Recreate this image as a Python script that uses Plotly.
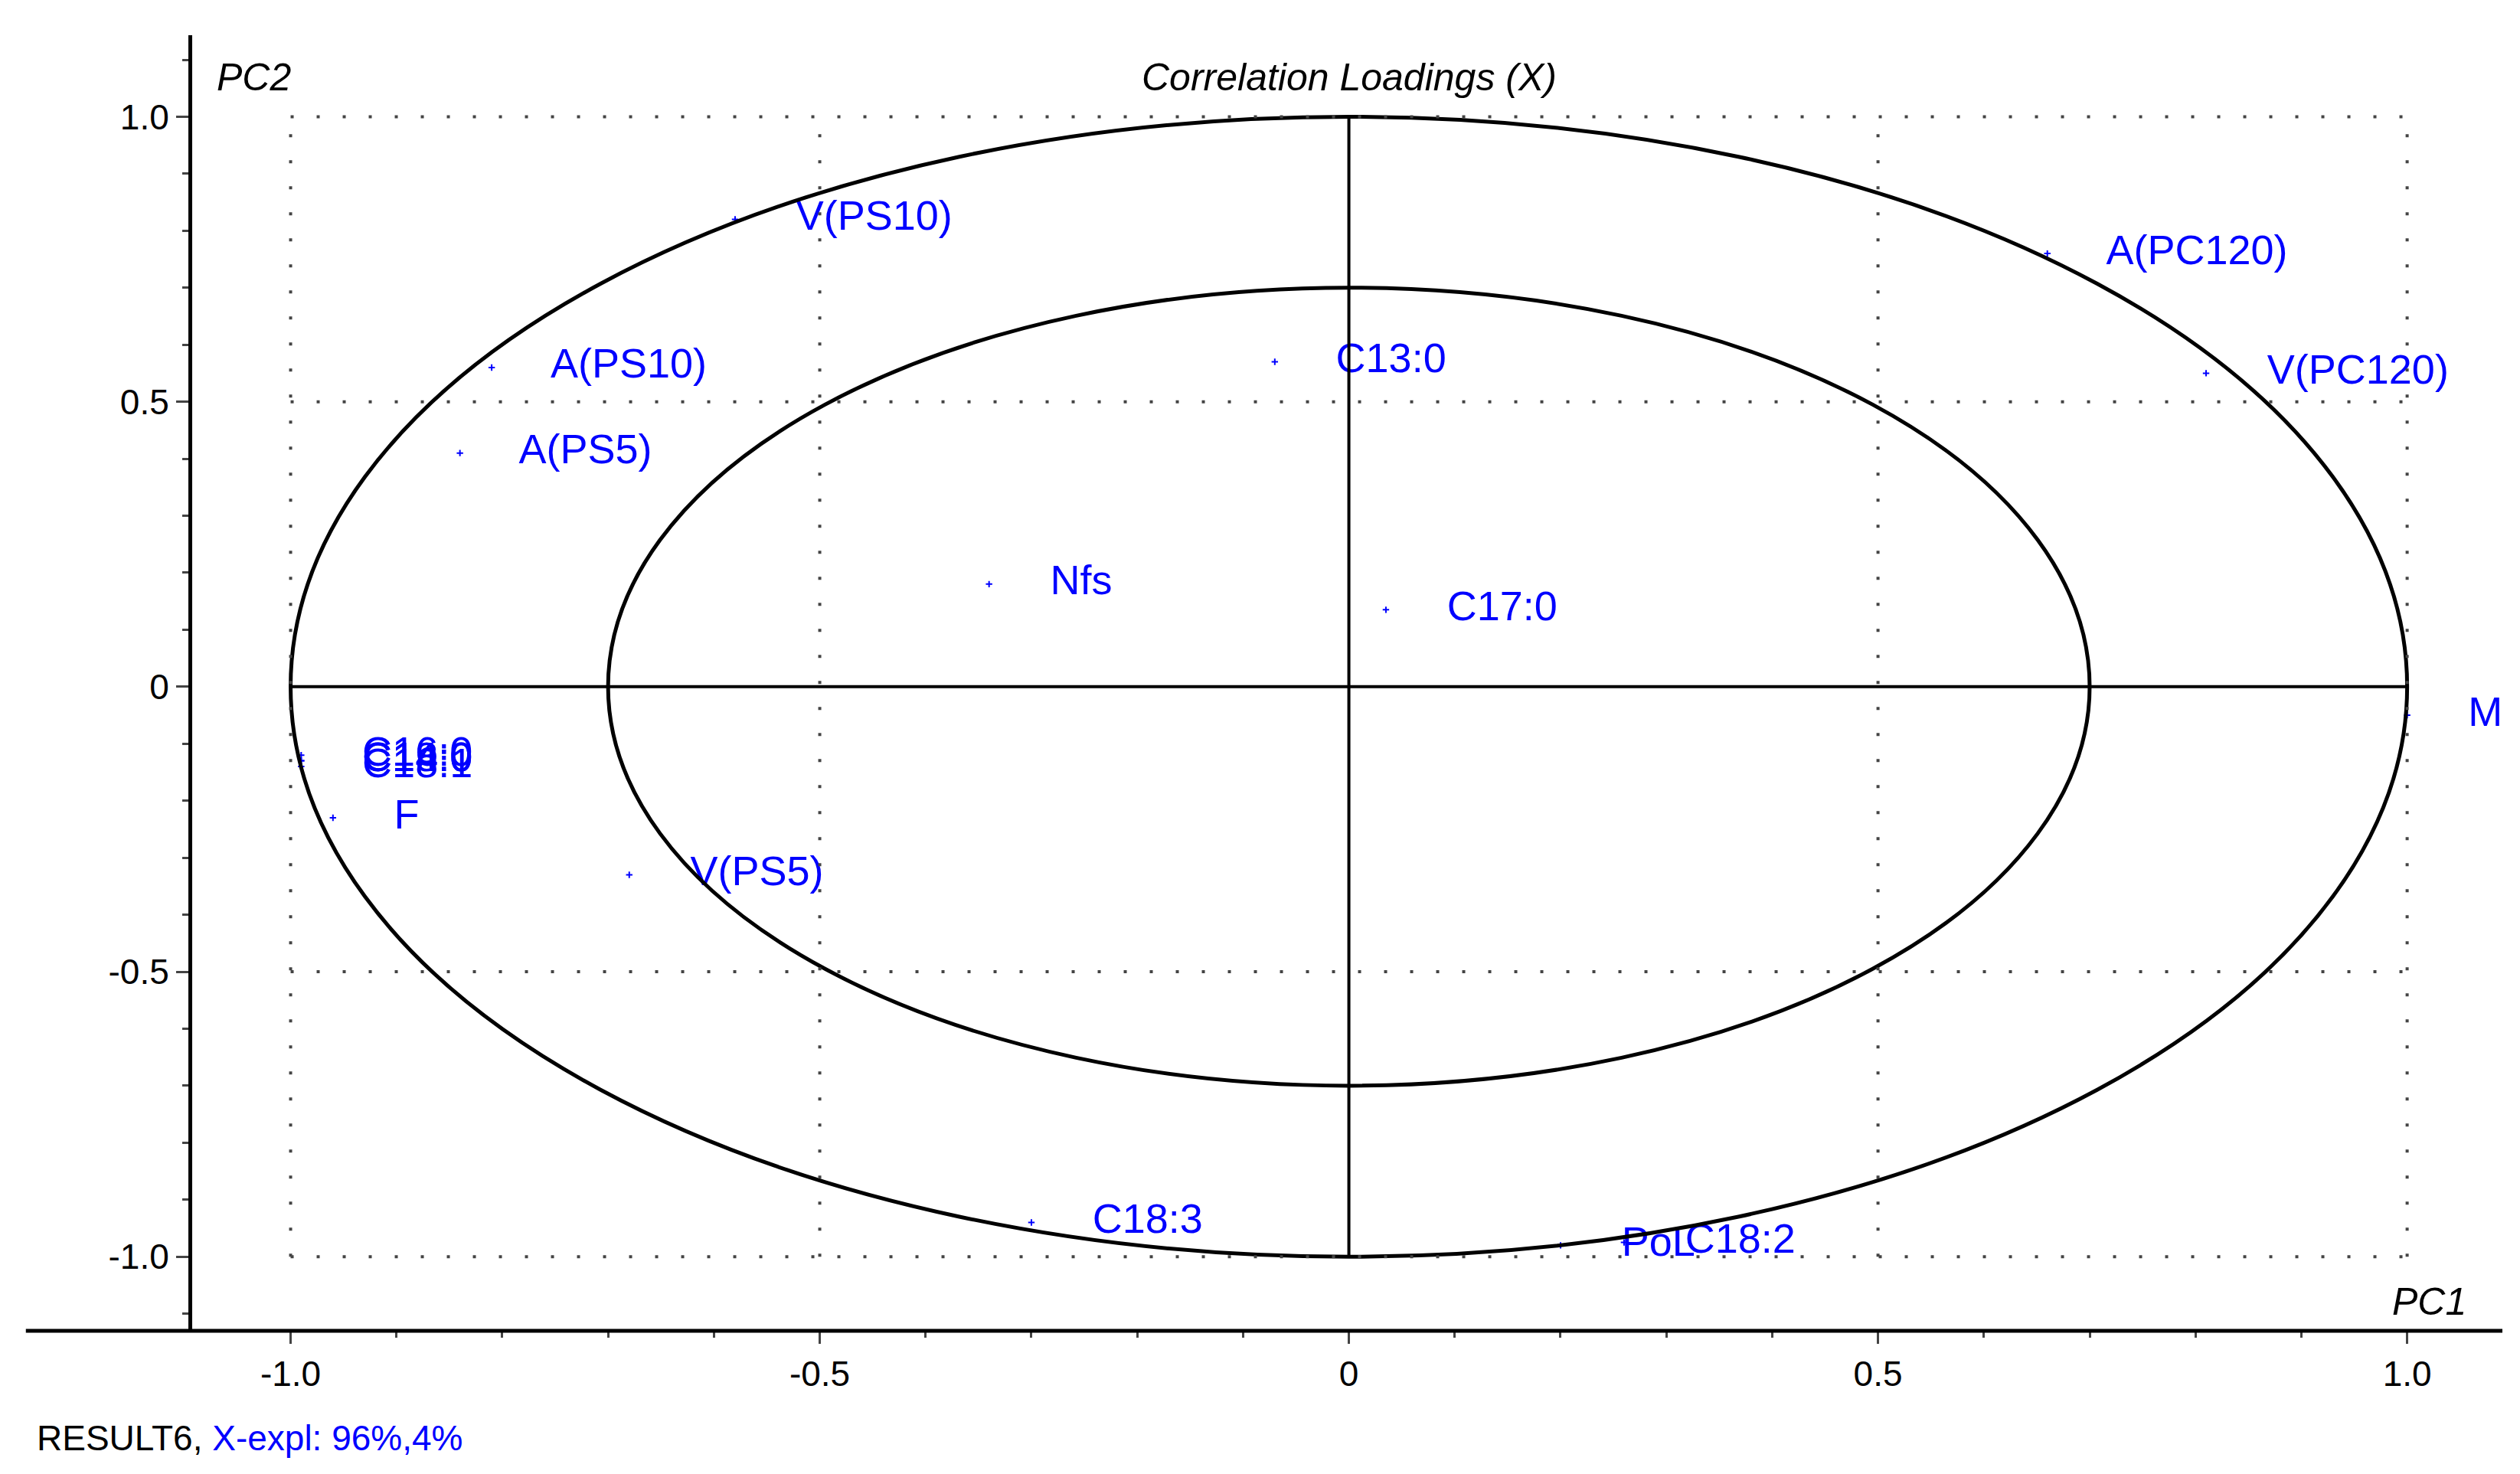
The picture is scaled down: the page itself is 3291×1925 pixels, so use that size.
import plotly.graph_objects as go

# loadings
labels = ['V(PS10)', 'A(PC120)', 'V(PC120)', 'A(PS10)', 'A(PS5)', 'C13:0', 'Nfs', 'C17:0', 'M',
          'C16:0', 'C18:0', 'C14:0', 'C18:1', 'F', 'V(PS5)', 'C18:3', 'PoL', 'C18:2']
pc1 = [-0.58, 0.66, 0.81, -0.81, -0.84, -0.07, -0.34, 0.035, 1.0,
       -0.99, -0.99, -0.99, -0.99, -0.96, -0.68, -0.30, 0.20, 0.26]
pc2 = [0.82, 0.76, 0.55, 0.56, 0.41, 0.57, 0.18, 0.135, -0.05,
       -0.12, -0.13, -0.13, -0.14, -0.23, -0.33, -0.94, -0.98, -0.975]

blue = '#0000ff'
font = 'Liberation Sans, Arial, sans-serif'

fig = go.Figure()
fig.add_trace(go.Scatter(x=pc1, y=pc2, mode='markers+text', text=['     ' + t for t in labels],
                         textposition='middle right', marker=dict(color=blue, size=6, symbol='cross-thin',
                                                                   line=dict(color=blue, width=2)),
                         textfont=dict(color=blue, size=54, family=font), cliponaxis=False,
                         showlegend=False))

shapes = []
# correlation circles (100% and 50% explained variance)
for r in (1.0, 0.7):
    shapes.append(dict(type='circle', xref='x', yref='y', x0=-r, x1=r, y0=-r, y1=r,
                       line=dict(color='black', width=5)))
for v in (-1, -0.5, 0.5, 1):
    shapes.append(dict(type='line', x0=v, x1=v, y0=-1, y1=1, line=dict(color='#444', width=4, dash='4px,30px')))
    shapes.append(dict(type='line', x0=-1, x1=1, y0=v, y1=v, line=dict(color='#444', width=4, dash='4px,30px')))
shapes.append(dict(type='line', x0=0, x1=0, y0=-1, y1=1, line=dict(color='black', width=4)))
shapes.append(dict(type='line', x0=-1, x1=1, y0=0, y1=0, line=dict(color='black', width=4)))
# bottom axis line extends to the left edge
shapes.append(dict(type='line', xref='paper', yref='paper', x0=-0.072, x1=1, y0=0, y1=0,
                   line=dict(color='black', width=5)))

fig.update_layout(
    width=3291, height=1925, plot_bgcolor='white', paper_bgcolor='white',
    margin=dict(l=243, r=31, t=38, b=195),
    shapes=shapes,
    font=dict(family=font, size=46, color='black'),
    xaxis=dict(range=[-1.093, 1.09], tickvals=[-1, -0.5, 0, 0.5, 1],
               ticktext=['-1.0', '-0.5', '0', '0.5', '1.0'], showgrid=False, zeroline=False,
               showline=False, ticks='outside', ticklen=16, tickwidth=3,
               minor=dict(dtick=0.1, ticks='outside', ticklen=8, tickwidth=3)),
    yaxis=dict(range=[-1.13, 1.143], tickvals=[-1, -0.5, 0, 0.5, 1],
               ticktext=['-1.0', '-0.5', '0', '0.5', '1.0'], showgrid=False, zeroline=False,
               showline=True, linecolor='black', linewidth=5, ticks='outside', ticklen=16, tickwidth=3,
               minor=dict(dtick=0.1, ticks='outside', ticklen=8, tickwidth=3)),
    annotations=[
        dict(text='<i>PC2</i>', xref='paper', yref='paper', x=0.01, y=0.985, showarrow=False,
             xanchor='left', yanchor='top', font=dict(size=50)),
        dict(text='<i>Correlation Loadings (X)</i>', xref='x', yref='paper', x=0, y=0.985,
             showarrow=False, yanchor='top', font=dict(size=50)),
        dict(text='<i>PC1</i>', xref='paper', yref='paper', x=0.985, y=0.005, showarrow=False,
             xanchor='right', yanchor='bottom', font=dict(size=50)),
        dict(text='RESULT6, <span style="color:#0000ff">X-expl: 96%,4%</span>', xref='paper',
             yref='paper', x=-0.068, y=-0.066, showarrow=False, xanchor='left', yanchor='top',
             font=dict(size=46)),
    ],
)

fig.write_html('out.html')
